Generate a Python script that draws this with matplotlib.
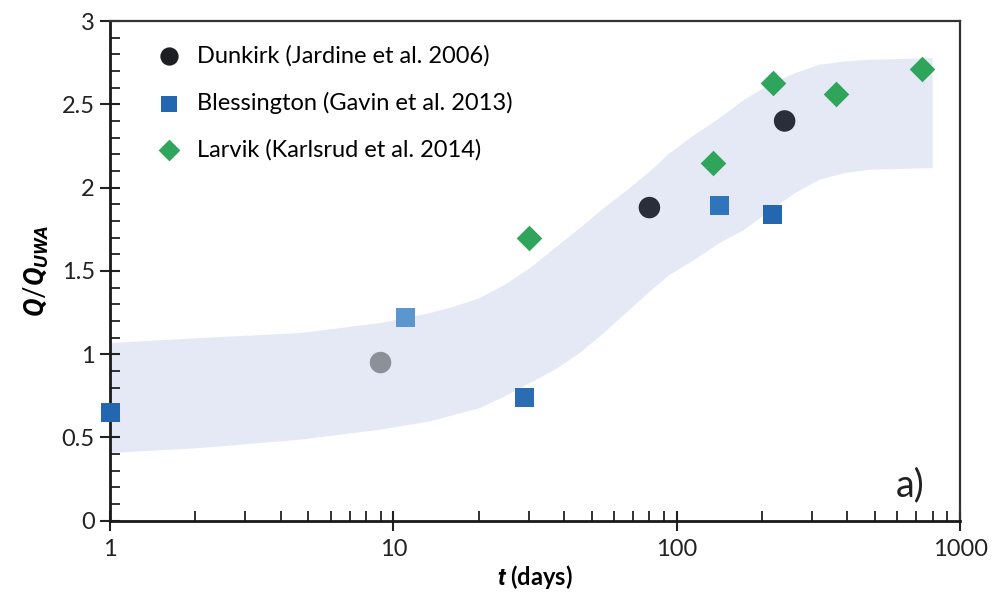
import matplotlib
matplotlib.use('Agg')
import matplotlib.pyplot as plt
from matplotlib.ticker import MultipleLocator, LogLocator, NullFormatter, FixedLocator

plt.rcParams['font.family'] = ['Lato', 'DejaVu Sans']
plt.rcParams['mathtext.fontset'] = 'custom'
plt.rcParams['mathtext.rm'] = 'Lato'
plt.rcParams['mathtext.it'] = 'Roboto:italic:bold'
plt.rcParams['mathtext.bf'] = 'Lato:bold'

# Data
dunkirk_t = [9, 80, 240]
dunkirk_q = [0.95, 1.88, 2.40]
blessington_t = [1, 11, 29, 141, 218]
blessington_q = [0.65, 1.22, 0.74, 1.89, 1.84]
larvik_t = [30, 134, 218, 365, 730]
larvik_q = [1.70, 2.15, 2.63, 2.56, 2.71]

# Shaded band (upper and lower bounds)
band_t = [1, 2.08, 4.68, 8.94, 13.4, 16.4, 20.1, 24.6, 30.2, 37, 45.3, 55, 67.9, 80, 94,
          115, 141, 172, 211, 260, 317, 388, 476, 796]
band_hi = [1.07, 1.10, 1.13, 1.19, 1.25, 1.29, 1.34, 1.42, 1.52, 1.64, 1.76, 1.88, 2.00, 2.10, 2.21,
           2.32, 2.42, 2.53, 2.62, 2.69, 2.74, 2.76, 2.77, 2.78]
band_lo = [0.41, 0.44, 0.49, 0.55, 0.60, 0.64, 0.68, 0.75, 0.83, 0.91, 1.01, 1.13, 1.27, 1.38, 1.48,
           1.57, 1.67, 1.75, 1.86, 1.97, 2.05, 2.09, 2.11, 2.12]

fig = plt.figure(figsize=(9.92, 6.0), dpi=100)
ax = fig.add_axes([0.111, 0.132, 0.857, 0.833])

ax.fill_between(band_t, band_lo, band_hi, color='#e4e9f5', lw=0, zorder=1)

ax.scatter(dunkirk_t, dunkirk_q, s=240, marker='o', c=['#8c9099', '#2a2d3a', '#2a2d3a'],
           linewidths=0, zorder=3, label='Dunkirk (Jardine et al. 2006)', clip_on=False)
ax.scatter(blessington_t, blessington_q, s=190, marker='s',
           c=['#2267b0', '#5b97cf', '#2a6db5', '#2e75bd', '#2267b0'], linewidths=0,
           zorder=3, label='Blessington (Gavin et al. 2013)', clip_on=False)
ax.scatter(larvik_t, larvik_q, s=170, marker='D', c='#2ea55a', linewidths=0,
           zorder=3, label='Larvik (Karlsrud et al. 2014)', clip_on=False)

ax.set_xscale('log')
ax.set_xlim(1, 1000)
ax.set_ylim(0, 3)

ax.set_yticks([0, 0.5, 1, 1.5, 2, 2.5, 3])
ax.set_yticklabels(['0', '0.5', '1', '1.5', '2', '2.5', '3'])
ax.yaxis.set_minor_locator(MultipleLocator(0.1))
ax.xaxis.set_major_locator(FixedLocator([1, 10, 100, 1000]))
ax.set_xticklabels(['1', '10', '100', '1000'])
ax.xaxis.set_minor_locator(LogLocator(base=10, subs=range(2, 10), numticks=20))
ax.xaxis.set_minor_formatter(NullFormatter())

ax.tick_params(which='major', direction='inout', length=14, width=1.5, labelsize=17,
               colors='#222222', pad=4)
ax.tick_params(which='minor', direction='in', length=7, width=1.3, colors='#222222')
ax.tick_params(axis='x', which='major', pad=6)
ax.tick_params(top=False, right=False, which='both')

for side in ['left', 'bottom']:
    ax.spines[side].set_linewidth(2.0)
    ax.spines[side].set_color('#1a1a1a')
for side in ['top', 'right']:
    ax.spines[side].set_linewidth(1.6)
    ax.spines[side].set_color('#333333')

ax.set_xlabel(r'$t$ (days)', fontsize=17, fontweight='bold', labelpad=2)
ax.set_ylabel(r'$\mathit{Q/Q}_{UWA}$', fontsize=20, labelpad=8)

leg = ax.legend(loc='upper left', bbox_to_anchor=(0.022, 0.985), frameon=False, fontsize=17,
                handletextpad=0.2, labelspacing=1.07, borderaxespad=0.3, markerscale=0.85)
leg.legend_handles[0].set_facecolor('#1e1f24')

ax.text(0.958, 0.035, 'a)', transform=ax.transAxes, fontsize=27, ha='right', va='bottom',
        color='#222222')

fig.savefig('out.png', dpi=100)
